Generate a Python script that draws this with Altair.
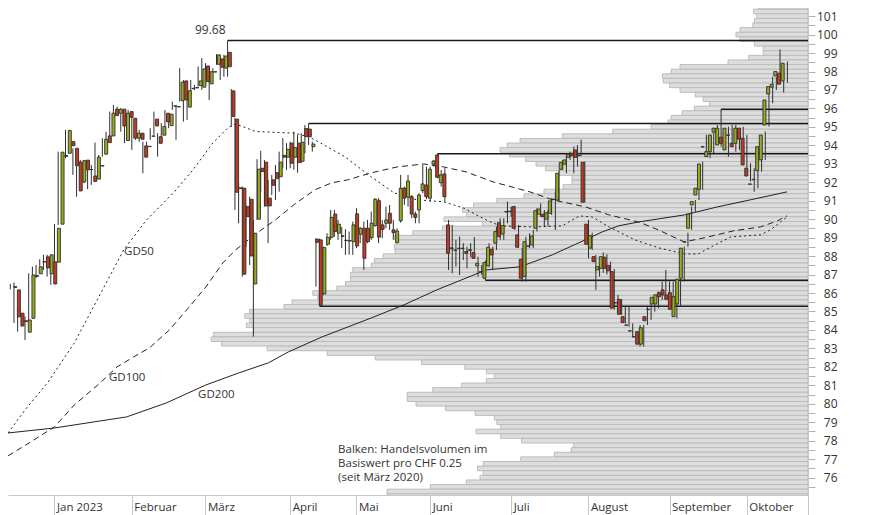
import altair as alt
import pandas as pd

# ---------------- data ----------------
OPEN = [86.30, 86.17, 84.91, 84.50, 83.88, 84.63, 86.90, 87.04, 87.68, 87.96,
        87.04, 87.69, 87.67, 89.73, 93.40, 93.57, 94.20, 93.84, 93.09, 92.02,
        93.20, 92.69, 92.34, 92.17, 92.88, 93.52, 94.51, 94.51, 95.96, 95.74,
        95.96, 94.26, 95.83, 95.47, 94.39, 94.66, 93.97, 93.93, 94.49, 95.42,
        94.47, 94.55, 95.74, 95.07, 96.12, 96.08, 96.42, 97.49, 96.07, 97.07,
        97.11, 97.24, 97.15, 98.30, 97.33, 97.97, 98.39, 98.68, 98.18, 99.04,
        96.95, 95.42, 91.70, 91.68, 90.68, 91.08, 86.49, 90.00, 92.76, 93.09,
        91.14, 92.13, 92.52, 92.30, 93.46, 93.36, 94.12, 93.36, 94.12, 93.14,
        94.91, 94.88, 93.93, 88.92, 88.88, 85.95, 88.64, 89.02, 90.28, 89.24,
        89.07, 88.84, 88.82, 88.78, 90.29, 89.18, 89.51, 89.51, 89.00, 89.65,
        91.00, 89.69, 89.78, 90.32, 89.42, 88.73, 89.92, 91.68, 91.19, 91.22,
        90.28, 90.50, 91.55, 91.85, 91.14, 92.98, 93.48, 91.98, 92.45, 89.69,
        88.40, 88.31, 88.41, 88.41, 88.25, 88.30, 88.19, 87.47, 87.14, 86.80,
        87.47, 88.37, 88.70, 89.81, 89.20, 90.39, 90.41, 90.68, 89.15, 87.83,
        86.89, 88.53, 88.60, 89.51, 90.27, 90.27, 90.00, 90.32, 91.06, 91.04,
        92.70, 92.98, 93.35, 93.57, 93.75, 93.44, 93.08, 89.73, 88.43, 87.97,
        87.25, 87.34, 87.94, 87.50, 87.16, 85.46, 85.66, 84.72, 84.25, 83.94,
        83.62, 83.91, 83.23, 84.72, 85.10, 85.41, 85.41, 86.02, 86.17, 85.90,
        86.02, 84.72, 85.41, 86.80, 88.76, 89.51, 90.77, 91.31, 91.62, 93.91,
        93.39, 93.66, 94.71, 94.02, 94.44, 93.75, 94.54, 94.11, 94.11, 94.93,
        94.38, 92.76, 91.89, 92.14, 92.63, 93.21, 95.10, 96.78, 97.15, 97.76,
        97.91, 97.49]
HIGH = [86.50, 86.57, 85.20, 84.73, 84.73, 87.07, 87.43, 87.52, 87.83, 88.07,
        88.07, 87.80, 89.74, 93.66, 93.48, 94.84, 94.84, 93.84, 93.16, 93.21,
        93.21, 92.94, 92.94, 94.15, 93.48, 94.39, 94.74, 95.83, 96.19, 96.10,
        96.01, 95.74, 95.92, 95.56, 95.47, 94.84, 94.20, 94.20, 94.93, 95.83,
        94.66, 95.20, 95.92, 95.74, 96.37, 96.14, 98.18, 97.54, 97.00, 97.54,
        97.27, 98.27, 98.72, 98.45, 98.09, 98.18, 98.94, 98.72, 98.90, 99.68,
        97.05, 95.49, 91.95, 91.77, 90.77, 91.22, 89.96, 93.25, 93.70, 93.21,
        92.13, 92.40, 92.94, 93.66, 94.39, 94.12, 94.20, 94.74, 94.57, 94.66,
        95.10, 95.18, 94.20, 88.97, 88.95, 88.51, 89.24, 90.50, 90.50, 89.96,
        89.57, 89.46, 89.33, 89.87, 90.60, 89.57, 89.87, 89.96, 90.41, 91.14,
        91.14, 89.96, 90.68, 90.77, 89.96, 89.51, 92.40, 91.77, 92.40, 91.31,
        90.41, 91.41, 92.94, 92.85, 92.85, 93.21, 93.55, 92.67, 92.76, 89.96,
        89.69, 88.88, 89.06, 88.70, 88.51, 88.70, 89.03, 87.97, 87.52, 87.77,
        88.70, 88.51, 89.60, 90.05, 90.05, 90.95, 90.68, 90.72, 89.69, 88.43,
        89.05, 89.24, 89.42, 90.60, 90.86, 90.50, 90.50, 91.14, 91.49, 92.67,
        93.21, 93.57, 93.66, 93.93, 94.02, 94.30, 93.12, 89.96, 89.27, 88.07,
        87.61, 88.20, 88.10, 87.70, 87.30, 85.90, 85.68, 85.26, 85.26, 84.36,
        83.82, 84.27, 84.27, 85.26, 85.41, 85.90, 86.08, 86.62, 87.25, 86.62,
        86.62, 85.90, 86.80, 88.51, 89.27, 90.68, 91.04, 91.77, 93.12, 94.57,
        93.84, 94.66, 95.10, 95.96, 94.66, 95.01, 95.10, 95.10, 94.95, 95.01,
        94.57, 93.03, 92.76, 92.67, 94.02, 94.75, 96.82, 97.72, 97.72, 99.20,
        98.09, 98.54]
LOW = [86.20, 84.38, 83.91, 84.18, 83.46, 84.45, 86.53, 86.80, 87.43, 87.25,
       86.89, 86.44, 87.62, 89.69, 92.04, 93.30, 93.75, 92.40, 91.22, 91.59,
       91.95, 91.63, 91.86, 92.13, 92.35, 93.39, 93.57, 94.39, 95.29, 95.74,
       94.74, 94.12, 95.47, 93.75, 94.30, 94.19, 92.49, 93.39, 94.30, 94.57,
       93.39, 94.30, 94.66, 94.93, 95.92, 94.30, 96.37, 95.29, 95.38, 96.73,
       97.00, 97.18, 97.00, 97.27, 96.46, 97.91, 98.36, 97.54, 97.72, 97.72,
       95.00, 90.50, 89.78, 86.89, 88.51, 87.52, 83.64, 89.96, 91.49, 90.68,
       88.70, 91.31, 91.04, 91.49, 92.76, 92.67, 92.76, 92.67, 92.52, 93.03,
       93.57, 94.02, 93.66, 86.35, 85.28, 85.90, 88.55, 88.88, 89.05, 88.88,
       88.43, 88.07, 88.07, 88.07, 88.43, 88.70, 87.25, 88.70, 88.88, 89.60,
       88.70, 88.97, 89.51, 89.42, 88.88, 88.70, 89.81, 90.77, 90.68, 90.05,
       89.78, 89.78, 91.41, 91.08, 90.95, 92.85, 92.22, 91.77, 90.95, 87.25,
       87.07, 87.43, 86.98, 87.79, 87.34, 87.95, 87.85, 86.89, 86.98, 86.69,
       87.43, 87.25, 88.33, 88.88, 88.88, 89.78, 90.14, 89.42, 88.46, 86.62,
       86.62, 88.43, 88.43, 89.33, 90.14, 89.60, 89.60, 90.23, 89.42, 90.95,
       92.67, 92.49, 93.21, 92.49, 92.85, 93.43, 90.90, 87.88, 88.33, 86.17,
       86.89, 87.10, 87.00, 86.90, 85.10, 85.00, 84.81, 84.36, 84.18, 83.64,
       83.37, 83.10, 83.10, 84.27, 84.55, 84.99, 85.18, 85.63, 85.63, 85.26,
       85.08, 84.63, 85.26, 86.62, 88.51, 89.42, 90.41, 91.04, 91.59, 93.48,
       93.30, 93.57, 94.66, 93.93, 93.84, 93.39, 93.93, 93.66, 93.75, 93.39,
       92.40, 92.04, 91.49, 91.68, 92.58, 93.21, 95.02, 96.28, 97.00, 97.63,
       96.86, 97.40]
CLOSE = [86.35, 84.71, 84.22, 84.45, 84.54, 86.98, 86.95, 87.42, 87.70, 87.36,
         88.07, 86.49, 89.51, 93.63, 93.45, 94.80, 93.98, 92.90, 91.53, 93.17,
         92.67, 92.69, 92.04, 93.36, 92.90, 94.33, 94.15, 95.74, 95.61, 95.96,
         95.05, 95.74, 95.52, 94.39, 94.66, 94.33, 93.36, 93.95, 94.51, 95.05,
         94.11, 95.02, 95.27, 95.69, 96.14, 96.10, 97.42, 96.46, 96.96, 97.09,
         97.13, 97.49, 98.14, 97.45, 97.99, 97.99, 98.90, 98.23, 98.84, 98.26,
         95.56, 91.46, 91.66, 87.02, 90.14, 88.01, 89.24, 92.71, 92.58, 90.72,
         90.72, 91.84, 92.20, 93.09, 93.36, 93.79, 93.03, 93.88, 93.07, 94.17,
         94.47, 94.47, 94.07, 88.75, 85.34, 88.46, 89.02, 90.10, 89.33, 89.73,
         89.10, 88.86, 88.84, 89.69, 88.55, 89.51, 87.88, 88.78, 89.78, 91.08,
         89.03, 89.45, 89.96, 89.78, 89.27, 89.36, 91.68, 91.14, 92.07, 90.28,
         90.10, 91.31, 91.91, 91.22, 92.71, 93.15, 92.27, 92.40, 91.22, 88.15,
         88.45, 88.33, 88.43, 88.43, 88.15, 88.35, 87.88, 87.61, 87.16, 87.65,
         88.48, 88.06, 89.33, 89.05, 89.65, 90.41, 90.43, 89.51, 88.48, 86.80,
         88.78, 88.55, 89.09, 90.46, 90.55, 90.14, 90.35, 90.99, 91.08, 92.49,
         93.08, 93.21, 93.52, 93.43, 93.35, 93.46, 90.92, 88.64, 89.11, 87.70,
         87.43, 87.97, 87.34, 87.20, 85.18, 85.48, 84.85, 84.40, 84.27, 83.96,
         83.64, 83.23, 84.12, 84.50, 85.12, 85.77, 85.90, 85.80, 85.90, 85.66,
         85.12, 85.80, 86.75, 88.43, 88.78, 90.28, 90.95, 91.68, 92.99, 93.93,
         93.66, 94.56, 94.93, 94.93, 94.11, 94.93, 94.56, 93.93, 94.93, 94.33,
         92.94, 92.34, 91.91, 92.16, 93.93, 94.56, 96.46, 97.18, 97.31, 98.00,
         97.31, 98.45]

# trading-day index of the first session of each month, and month labels
MONTH_IDX = [12, 33, 53, 76, 94, 114, 136, 157, 179, 200]
MONTH_LABELS = ["Jan 2023", "Februar", "März", "April", "Mai", "Juni",
                "Juli", "August", "September", "Oktober"]

# moving averages (trading-day index, price)
GD50_IDX = [-0.6, 4.0, 10.1, 17.4, 23.6, 30.8, 37.0, 44.3, 49.6, 55.0, 59.1,
            61.2, 66.6, 77.3, 80.8, 82.7, 90.8, 98.0, 104.2, 110.4, 117.7,
            123.0, 129.2, 133.0, 141.9, 149.9, 154.5, 158.0, 162.6, 169.6,
            176.0, 183.0, 186.8, 190.3, 195.6, 203.7, 206.4, 210.9]
GD50_VAL = [78.42, 79.67, 81.13, 83.30, 85.63, 88.34, 89.96, 91.43, 92.67,
            94.13, 94.95, 95.16, 94.75, 94.66, 94.47, 94.30, 93.39, 92.29,
            91.43, 91.05, 90.94, 90.61, 89.96, 89.64, 89.58, 89.64, 90.18,
            90.12, 89.58, 88.88, 88.45, 88.12, 88.12, 88.50, 89.04, 89.15,
            89.42, 90.12]
GD100_IDX = [-0.6, 5.6, 12.0, 17.4, 24.4, 29.0, 33.5, 37.8, 43.2, 48.6, 53.1,
             57.7, 61.2, 67.0, 72.0, 77.3, 82.7, 87.3, 91.6, 98.0, 105.0,
             112.3, 117.7, 123.8, 131.1, 141.1, 147.2, 156.1, 162.6, 170.6,
             176.0, 180.0, 183.0, 188.4, 196.4, 203.7, 208.3, 210.9]
GD100_VAL = [77.18, 77.94, 78.75, 79.94, 81.13, 82.00, 82.54, 83.03, 84.00,
             85.25, 86.33, 87.63, 88.34, 89.26, 89.96, 90.83, 91.59, 91.97,
             92.13, 92.51, 92.83, 92.99, 92.83, 92.56, 92.02, 91.48, 91.05,
             90.67, 90.23, 89.85, 89.42, 89.04, 88.77, 88.99, 89.37, 89.58,
             89.91, 90.18]
GD200_IDX = [-0.6, 12.0, 26.3, 31.6, 42.4, 53.1, 62.0, 70.1, 75.5, 84.6, 98.0,
             106.9, 115.8, 129.2, 138.4, 147.2, 156.1, 160.7, 165.2, 170.6,
             183.0, 192.1, 201.0, 210.9]
GD200_VAL = [78.42, 78.69, 79.13, 79.29, 80.05, 81.02, 81.67, 82.22, 82.81,
             83.62, 84.65, 85.36, 86.17, 87.25, 87.42, 88.07, 88.88, 89.31,
             89.64, 89.85, 90.23, 90.67, 91.05, 91.48]

# volume profile: bins of CHF 0.25 (centres from 101.75 down to 75.00), relative volume
VP_PRICE = [101.75 - 0.25 * k for k in range(108)]
VP_VOL = [4.2, 6.2, 6.8, 6.4, 6.7, 6.9, 8.5, 9.0, 8.5, 6.7,
          5.6, 5.6, 7.4, 10.0, 16.0, 17.1, 18.2, 18.1, 17.3, 16.0,
          14.1, 13.1, 12.3, 14.2, 15.7, 17.1, 17.5, 19.6, 24.4, 30.7,
          36.0, 37.6, 38.5, 37.3, 35.3, 34.0, 32.8, 31.1, 29.5, 29.5,
          30.6, 33.0, 35.5, 38.9, 41.8, 43.2, 42.7, 45.5, 40.7, 45.7,
          49.4, 51.7, 51.5, 51.7, 51.6, 53.1, 54.2, 54.6, 56.9, 57.2,
          57.2, 57.8, 58.9, 61.9, 61.3, 64.5, 65.5, 69.8, 70.4, 69.8,
          70.2, 69.3, 74.3, 74.6, 73.3, 67.6, 60.1, 54.1, 48.3, 42.9,
          40.2, 39.2, 40.2, 43.3, 46.9, 50.1, 50.1, 49.0, 45.3, 41.6,
          39.2, 38.9, 38.4, 41.5, 38.4, 35.8, 29.3, 29.6, 31.7, 35.9,
          40.6, 41.3, 40.6, 41.0, 42.7, 47.2, 52.6, 52.6]

# support / resistance levels: starting candle and price
LEVEL_START = [59, 81, 116, 193, 129, 84]
LEVEL_PRICE = [99.68, 95.18, 93.55, 95.96, 86.69, 85.28]

# annotations
HIGH_LABEL = "99.68"
GD_LABELS = ["GD50", "GD100", "GD200"]
GD_LABEL_IDX = [30.9, 26.8, 51.0]
GD_LABEL_VAL = [88.23, 81.40, 80.48]
NOTE_LINES = ["Balken: Handelsvolumen im", "Basiswert pro CHF 0.25", "(seit März 2020)"]
NOTE_IDX = [89.0, 89.0, 89.0]
NOTE_VAL = [77.52, 76.76, 75.97]

# ---------------- chart ----------------
X_MIN, X_MAX = -0.62, 216.6
Y_MIN, Y_MAX = 75.06, 101.44
W, H = 800, 487
FONT = "Open Sans"
FS = 11.5
TXT = "#333333"
GREEN, RED, EDGE = "#9aab1e", "#c23b22", "#2e2e2e"

candles = pd.DataFrame({"i": list(range(len(OPEN))), "o": OPEN, "h": HIGH,
                        "l": LOW, "c": CLOSE})
candles["col"] = [GREEN if c >= o else RED for o, c in zip(OPEN, CLOSE)]

vp_df = pd.DataFrame({"p": VP_PRICE, "v": VP_VOL})
vp_df["lo"] = vp_df["p"] - 0.125
vp_df["hi"] = vp_df["p"] + 0.125

xs = alt.Scale(domain=[X_MIN, X_MAX], nice=False, zero=False)
ys = alt.Scale(domain=[Y_MIN, Y_MAX], nice=False, zero=False)

month_expr = "".join(f"datum.value == {v} ? '{t}' : " for v, t in zip(MONTH_IDX, MONTH_LABELS)) + "''"

x_axis = alt.Axis(values=MONTH_IDX + [X_MAX], labelExpr=month_expr, tickSize=20,
                  tickColor="#c8c8c8", domainColor="#c8c8c8", labelAlign="left",
                  labelBaseline="middle", labelPadding=-8, labelOffset=2,
                  labelFont=FONT, labelFontSize=FS, labelColor=TXT, grid=False,
                  title=None, labelOverlap=False, labelFlush=False)

Y_TICKS = [75.5 + 0.5 * k for k in range(52)]
y_axis = alt.Axis(orient="right", values=Y_TICKS,
                  labelExpr="datum.value % 1 == 0 ? format(datum.value, 'd') : ''",
                  tickSize=7, tickColor="#b4b4b4", domainColor="#c8c8c8",
                  labelAlign="right", labelPadding=22, labelFont=FONT,
                  labelFontSize=FS + 0.5, labelColor=TXT, grid=False, title=None,
                  labelOverlap=False, labelFlush=False)


def Y(field):
    return alt.Y(field, scale=ys, axis=y_axis)


def X(field, axis=None):
    return alt.X(field, scale=xs, axis=axis)


vp = alt.Chart(vp_df).mark_rect(fill="#dddddd", stroke="#bcbcbc", strokeWidth=1,
                                clip=True).encode(
    x=alt.X("v:Q", scale=alt.Scale(domain=[0, 100], reverse=True, nice=False, zero=False), axis=None),
    x2=alt.datum(0),
    y=Y("lo:Q"),
    y2="hi:Q",
)


def ma_layer(idx, val, dash):
    df = pd.DataFrame({"i": idx, "v": val})
    kw = dict(color="#222222", strokeWidth=1, clip=True)
    if dash:
        kw["strokeDash"] = dash
    return alt.Chart(df).mark_line(**kw).encode(x=X("i:Q"), y=Y("v:Q"))


gd200 = ma_layer(GD200_IDX, GD200_VAL, None)
gd100 = ma_layer(GD100_IDX, GD100_VAL, [6, 4])
gd50 = ma_layer(GD50_IDX, GD50_VAL, [2, 3])

lv_df = pd.DataFrame({"i": LEVEL_START, "p": LEVEL_PRICE})
levels = alt.Chart(lv_df).mark_rule(color="#1a1a1a", strokeWidth=1.5).encode(
    x=X("i:Q"), x2=alt.datum(X_MAX), y=Y("p:Q"),
)

wick = alt.Chart(candles).mark_rule(color=EDGE, strokeWidth=1).encode(
    x=X("i:Q", x_axis), y=Y("l:Q"), y2="h:Q",
)

body = alt.Chart(candles).mark_bar(size=3, stroke=EDGE, strokeWidth=0.9).encode(
    x=X("i:Q"), y=Y("o:Q"), y2="c:Q",
    color=alt.Color("col:N", scale=None),
)

hi_df = pd.DataFrame({"i": [LEVEL_START[0]], "p": [LEVEL_PRICE[0]], "t": [HIGH_LABEL]})
hi_txt = alt.Chart(hi_df).mark_text(align="right", baseline="bottom", dx=-2, dy=-3,
                                    font=FONT, fontSize=FS + 0.5, color=TXT).encode(
    x=X("i:Q"), y=Y("p:Q"), text="t:N",
)

gd_df = pd.DataFrame({"i": GD_LABEL_IDX, "p": GD_LABEL_VAL, "t": GD_LABELS})
gd_txt = alt.Chart(gd_df).mark_text(align="left", baseline="middle", font=FONT,
                                    fontSize=FS, color=TXT).encode(
    x=X("i:Q"), y=Y("p:Q"), text="t:N",
)

note_df = pd.DataFrame({"i": NOTE_IDX, "p": NOTE_VAL, "t": NOTE_LINES})
note_txt = alt.Chart(note_df).mark_text(align="left", baseline="middle", font=FONT,
                                        fontSize=FS, color=TXT).encode(
    x=X("i:Q"), y=Y("p:Q"), text="t:N",
)

chart = alt.layer(vp, gd200, gd100, gd50, levels, wick, body, hi_txt, gd_txt,
                  note_txt).resolve_scale(x="independent").properties(
    width=W, height=H,
    padding={"left": 0, "top": 0, "right": 5, "bottom": 0},
).configure_view(strokeWidth=0)

chart.save("out.html", embed_options={"renderer": "svg", "actions": False})
